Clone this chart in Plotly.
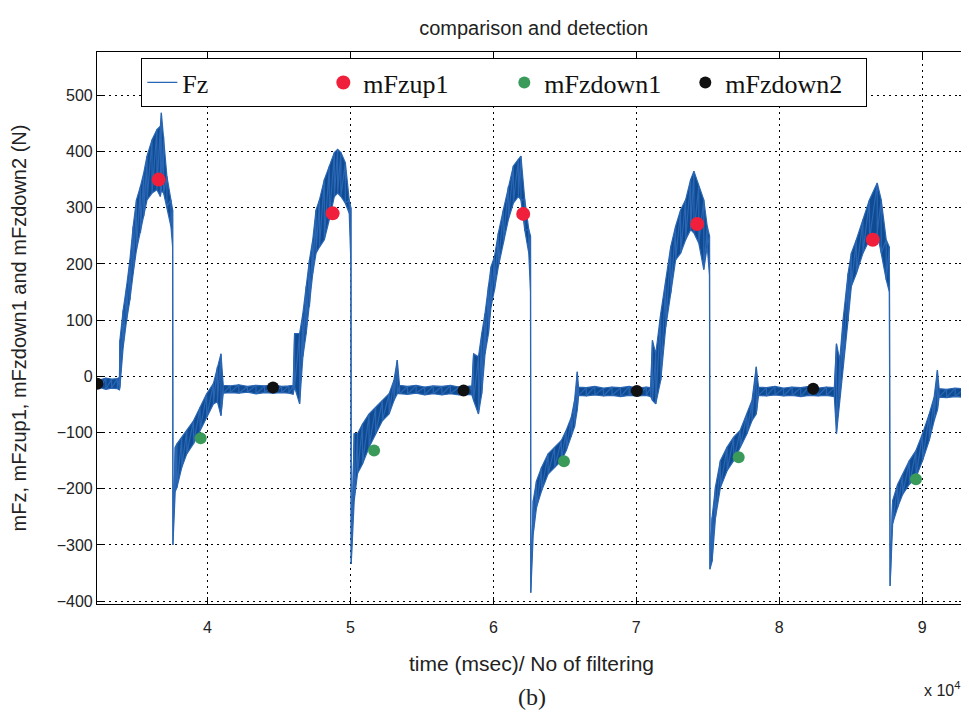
import plotly.graph_objects as go

# ---- Fz signal (time in units of 1e4 ms): upper / lower envelope of the noisy trace
fz_time = [
    3.210, 3.250, 3.290, 3.330, 3.370, 3.385, 3.388, 3.411, 3.435, 3.458, 3.481, 3.504, 3.532, 3.555,
    3.578, 3.613, 3.647, 3.671, 3.678, 3.694, 3.717, 3.745, 3.757, 3.759, 3.775, 3.787, 3.821, 3.856,
    3.903, 3.949, 3.995, 4.042, 4.070, 4.095, 4.111, 4.160, 4.220, 4.280, 4.340, 4.400, 4.460, 4.520,
    4.570, 4.600,
    4.610, 4.645, 4.668, 4.691, 4.714, 4.737, 4.760, 4.784, 4.818, 4.853, 4.888, 4.911, 4.934, 4.965,
    4.992, 5.004, 5.006, 5.027, 5.050, 5.085, 5.131, 5.177, 5.224, 5.271, 5.305, 5.328, 5.344, 5.400,
    5.460, 5.520, 5.580, 5.640, 5.700, 5.760, 5.820, 5.850,
    5.862, 5.896, 5.919, 5.942, 5.966, 5.984, 6.008, 6.035, 6.070, 6.105, 6.140, 6.175, 6.193, 6.220,
    6.248, 6.260, 6.262, 6.279, 6.302, 6.337, 6.383, 6.429, 6.476, 6.510, 6.545, 6.568, 6.587, 6.596,
    6.650, 6.710, 6.770, 6.830, 6.890, 6.950, 7.010, 7.070, 7.100,
    7.113, 7.136, 7.171, 7.206, 7.241, 7.275, 7.310, 7.345, 7.380, 7.403, 7.437, 7.472, 7.496, 7.512,
    7.515, 7.530, 7.554, 7.588, 7.635, 7.681, 7.727, 7.774, 7.809, 7.839, 7.855, 7.910, 7.970, 8.030,
    8.090, 8.150, 8.210, 8.270, 8.330, 8.385,
    8.400, 8.423, 8.446, 8.481, 8.504, 8.539, 8.585, 8.631, 8.685, 8.713, 8.748, 8.770, 8.775, 8.793,
    8.828, 8.863, 8.910, 8.956, 9.002, 9.049, 9.083, 9.106, 9.118, 9.170, 9.230, 9.290, 9.330,
]
fz_upper = [
    -5, -6, -3, -5, -4, -2, 64, 118, 160, 207, 267, 314, 338, 362,
    392, 421, 439, 445, 469, 427, 356, 314, 296, -300, -126, -120, -108, -96,
    -79, -55, -31, -13, 17, 40, -16, -17, -15, -18, -16, -17, -15, -18,
    -17, -16,
    76, 76, 112, 160, 207, 243, 296, 314, 350, 374, 398, 404, 398, 380,
    314, 300, -334, -102, -102, -85, -67, -55, -43, -31, -7, 29, -16, -18,
    -16, -19, -17, -18, -16, -19, -18, -17,
    40, 35, 76, 112, 160, 195, 213, 255, 296, 338, 374, 386, 392, 314,
    261, 250, -385, -221, -186, -162, -138, -126, -114, -96, -73, -43, 8, -19,
    -20, -18, -21, -19, -20, -18, -21, -19, -20,
    64, 40, 112, 171, 231, 267, 296, 314, 350, 365, 338, 314, 267, 250,
    -343, -251, -196, -150, -126, -108, -96, -67, -43, 17, -19, -20, -18, -21,
    -19, -20, -18, -21, -19, -20,
    58, 29, 100, 183, 219, 243, 279, 314, 344, 314, 243, 230, -373, -221,
    -192, -174, -150, -132, -102, -67, -37, 11, -22, -23, -21, -22, -23,
]
fz_lower = [
    -22, -20, -23, -21, -22, -24, -20, 52, 100, 136, 183, 225, 255, 285,
    314, 326, 332, 320, 330, 326, 302, 267, 230, -300, -205, -198, -162, -138,
    -120, -96, -73, -49, -45, -70, -30, -29, -30, -28, -31, -29, -30, -29,
    -30, -32,
    -19, -49, 35, 76, 124, 183, 219, 230, 243, 279, 320, 326, 320, 308,
    290, 200, -334, -221, -173, -156, -126, -102, -79, -67, -43, -31, -31, -32,
    -30, -33, -31, -33, -31, -33, -32, -33,
    -43, -67, -31, 40, 76, 124, 154, 195, 237, 279, 308, 320, 314, 260,
    219, 150, -385, -281, -233, -204, -174, -162, -150, -132, -108, -90, -60, -34,
    -35, -33, -35, -34, -36, -34, -35, -34, -36,
    -43, -49, -7, 88, 148, 207, 219, 243, 261, 255, 237, 190, 231, 180,
    -343, -329, -251, -198, -168, -150, -126, -102, -79, -67, -34, -35, -33, -35,
    -34, -36, -34, -35, -34, -36,
    -102, -37, 17, 100, 160, 183, 219, 243, 255, 219, 172, 150, -373, -262,
    -233, -210, -192, -180, -150, -114, -79, -60, -37, -38, -36, -37, -38,
]

# ---- detected points
up1_time = [3.659, 4.876, 6.209, 7.426, 8.654]
up1_value = [350, 290, 289, 271, 243]
down1_time = [3.953, 5.166, 6.494, 7.716, 8.956]
down1_value = [-110, -132, -151, -144, -183]
down2_time = [3.230, 4.459, 5.792, 7.004, 8.237]
down2_value = [-13, -20, -25, -26, -22]

x_ticks = [4, 5, 6, 7, 8, 9]
y_ticks = [-400, -300, -200, -100, 0, 100, 200, 300, 400, 500]

# band outline (upper forward, lower backward) and noisy line (alternating upper/lower)
band_x = fz_time + fz_time[::-1]
band_y = fz_upper + fz_lower[::-1]
line_x, line_y = [], []
for t, u, l in zip(fz_time, fz_upper, fz_lower):
    line_x += [t, t]
    line_y += [u, l]

BLUE_FILL = "#0e4b93"
BLUE_LINE = "#2a66b3"
SANS = "Liberation Sans, Arial, sans-serif"
SERIF = "Liberation Serif, Times New Roman, serif"

fig = go.Figure()
fig.add_trace(go.Scatter(x=band_x, y=band_y, mode="lines", fill="toself",
                         fillcolor=BLUE_FILL, line=dict(color=BLUE_LINE, width=1.2),
                         showlegend=False, hoverinfo="skip"))
fig.add_trace(go.Scatter(x=line_x, y=line_y, mode="lines", name="Fz",
                         line=dict(color=BLUE_LINE, width=1.2)))
fig.add_trace(go.Scatter(x=up1_time, y=up1_value, mode="markers", name="mFzup1",
                         marker=dict(color="#f0203c", size=14)))
fig.add_trace(go.Scatter(x=down1_time, y=down1_value, mode="markers", name="mFzdown1",
                         marker=dict(color="#3a9a5a", size=12)))
fig.add_trace(go.Scatter(x=down2_time, y=down2_value, mode="markers", name="mFzdown2",
                         marker=dict(color="#111111", size=12)))

axis_common = dict(
    showline=True, linecolor="black", linewidth=1.2, mirror="ticks",
    ticks="inside", ticklen=7, tickcolor="black",
    showgrid=True, gridcolor="black", gridwidth=1, griddash="2px,4px",
    zeroline=False,
    tickfont=dict(family=SANS, size=16, color="#222"),
)

fig.update_layout(
    width=961, height=708,
    margin=dict(l=85, r=2, t=44, b=112),
    paper_bgcolor="white", plot_bgcolor="white",
    title=dict(text="comparison and detection", x=0.547, xanchor="center", y=0.972, yanchor="middle",
               font=dict(family=SANS, size=20, color="#222")),
    xaxis=dict(range=[3.228, 9.306], tickvals=x_ticks, ticktext=[str(v) for v in x_ticks],
               ticklabelstandoff=9,
               title=dict(text="time (msec)/ No of filtering", standoff=21,
                          font=dict(family=SANS, size=21, color="#222")),
               **axis_common),
    yaxis=dict(range=[-405, 577], tickvals=y_ticks,
               title=dict(text="mFz, mFzup1, mFzdown1 and mFzdown2 (N)", standoff=33,
                          font=dict(family=SANS, size=20, color="#222")),
               **axis_common),
    legend=dict(orientation="h", x=0.051, y=0.989, xanchor="left", yanchor="top",
                bordercolor="black", borderwidth=1, bgcolor="white",
                font=dict(family=SERIF, size=26, color="#111"),
                entrywidth=136, entrywidthmode="pixels", itemwidth=30),
    annotations=[
        dict(text="x 10<sup>4</sup>", xref="paper", yref="paper", x=0.995, y=-0.176,
             xanchor="right", showarrow=False, font=dict(family=SANS, size=16, color="#222")),
        dict(text="(b)", xref="paper", yref="paper", x=0.5, y=-0.195, showarrow=False,
             font=dict(family=SERIF, size=24, color="#222")),
    ],
)

fig.write_html("out.html")
